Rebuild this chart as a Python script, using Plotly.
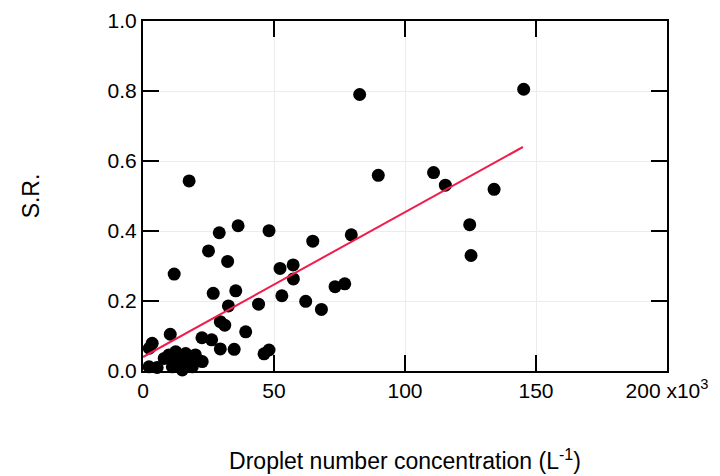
import plotly.graph_objects as go

# Droplet number concentration (x10^3 L^-1) and S.R. values
conc = [145.3, 82.7, 17.6, 89.8, 110.9, 115.4, 134.0, 124.7, 125.2, 79.5,
        64.8, 36.3, 29.1, 48.1, 25.0, 32.3, 11.9, 52.3, 57.3, 57.4,
        77.0, 73.3, 26.8, 35.4, 53.0, 62.1, 68.1, 32.6, 44.1, 29.5,
        31.2, 39.2, 10.4, 22.5, 26.2, 29.5, 34.8, 46.2, 48.1, 3.5,
        2.4, 2.3, 5.4, 9.9, 12.5, 16.3, 20.0, 11.2, 15.0, 18.8,
        22.6, 12.6, 14.5, 18.3, 8.1]
sr = [0.805, 0.790, 0.543, 0.559, 0.567, 0.531, 0.519, 0.418, 0.330, 0.389,
      0.371, 0.415, 0.395, 0.401, 0.343, 0.313, 0.277, 0.293, 0.303, 0.263,
      0.249, 0.241, 0.222, 0.229, 0.215, 0.199, 0.176, 0.186, 0.191, 0.141,
      0.131, 0.112, 0.105, 0.095, 0.089, 0.063, 0.062, 0.049, 0.060, 0.079,
      0.065, 0.012, 0.010, 0.046, 0.055, 0.050, 0.046, 0.012, 0.003, 0.012,
      0.027, 0.030, 0.025, 0.035, 0.036]

# Regression line endpoints
fit_x = [0, 145]
fit_y = [0.04, 0.64]

x_ticks = [0, 50, 100, 150, 200]
x_ticktext = ["0", "50", "100", "150", "200 x10<sup>3</sup>"]
y_ticks = [0.0, 0.2, 0.4, 0.6, 0.8, 1.0]
y_ticktext = ["0.0", "0.2", "0.4", "0.6", "0.8", "1.0"]

FONT = "Liberation Sans, Arial, sans-serif"

fig = go.Figure()
fig.add_trace(go.Scatter(x=conc, y=sr, mode="markers",
                         marker=dict(color="black", size=13),
                         showlegend=False, cliponaxis=False))
fig.add_trace(go.Scatter(x=fit_x, y=fit_y, mode="lines",
                         line=dict(color="#f01c4c", width=2),
                         showlegend=False))

axis_common = dict(showline=True, linecolor="black", linewidth=2,
                   mirror="ticks", ticks="inside", ticklen=16, tickwidth=2,
                   tickcolor="black", showgrid=True, gridcolor="#ececec",
                   gridwidth=1, zeroline=False, automargin=False,
                   tickfont=dict(family=FONT, size=21, color="black"))

fig.update_xaxes(range=[0, 200], tickvals=x_ticks, ticktext=x_ticktext,
                 title=dict(text="Droplet number concentration (L<sup>-1</sup>)",
                            font=dict(family=FONT, size=23, color="black"),
                            standoff=52),
                 **axis_common)
fig.update_yaxes(range=[0, 1.0], tickvals=y_ticks, ticktext=y_ticktext,
                 title=dict(text="S.R.", font=dict(family=FONT, size=23, color="black"),
                            standoff=62),
                 **axis_common)

fig.update_layout(width=720, height=476,
                  margin=dict(l=143, r=53, t=21, b=105),
                  plot_bgcolor="white", paper_bgcolor="white",
                  font=dict(family=FONT))

fig.write_html("out.html")
